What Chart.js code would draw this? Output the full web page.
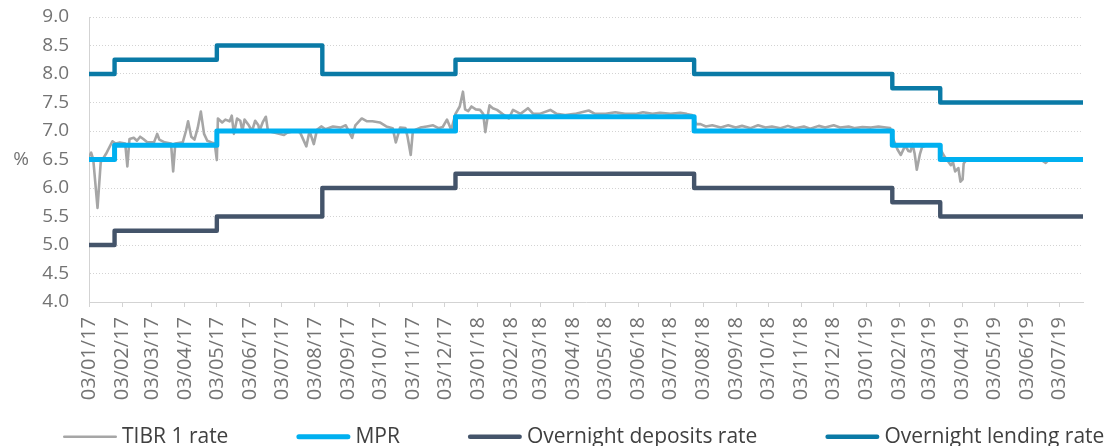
<!DOCTYPE html>
<html>
<head>
<meta charset="utf-8">
<script src="https://cdn.jsdelivr.net/npm/chart.js@4.4.1/dist/chart.umd.min.js"></script>
<style>
  html, body { margin: 0; padding: 0; background: #ffffff; }
  #wrap { width: 1106px; height: 446px; position: relative; }
</style>
</head>
<body>
<div id="wrap"><canvas id="c"></canvas></div>
<script>
// ---------- DATA ----------
const startDate = '2017-01-03';
const endDate = '2019-07-25';

const tickLabels = [
  '03/01/17','03/02/17','03/03/17','03/04/17','03/05/17','03/06/17','03/07/17','03/08/17','03/09/17','03/10/17','03/11/17','03/12/17',
  '03/01/18','03/02/18','03/03/18','03/04/18','03/05/18','03/06/18','03/07/18','03/08/18','03/09/18','03/10/18','03/11/18','03/12/18',
  '03/01/19','03/02/19','03/03/19','03/04/19','03/05/19','03/06/19','03/07/19'
];

const seriesNames = ['TIBR 1 rate', 'MPR', 'Overnight deposits rate', 'Overnight lending rate'];

// policy-rate change dates (step series)
const policyDates = ['2017-01-03','2017-01-27','2017-05-03','2017-08-10','2017-12-13','2018-07-25','2019-01-27','2019-03-13','2019-07-25'];
const mprValues     = [6.50, 6.75, 7.00, 7.00, 7.25, 7.00, 6.75, 6.50, 6.50];
const depositValues = [5.00, 5.25, 5.50, 6.00, 6.25, 6.00, 5.75, 5.50, 5.50];
const lendingValues = [8.00, 8.25, 8.50, 8.00, 8.25, 8.00, 7.75, 7.50, 7.50];

// TIBR 1 (overnight interbank) rate
const tibrDates = [
  '2017-01-03','2017-01-05','2017-01-07','2017-01-11','2017-01-14','2017-01-19','2017-01-25','2017-01-28','2017-02-01','2017-02-06',
  '2017-02-08','2017-02-10','2017-02-14','2017-02-17','2017-02-20','2017-02-23','2017-02-27','2017-03-05','2017-03-08','2017-03-10',
  '2017-03-15','2017-03-21','2017-03-23','2017-03-25','2017-04-01','2017-04-04','2017-04-06','2017-04-09','2017-04-12','2017-04-15',
  '2017-04-18','2017-04-21','2017-04-24','2017-04-28','2017-05-01','2017-05-03','2017-05-04','2017-05-08','2017-05-11','2017-05-15',
  '2017-05-17','2017-05-19','2017-05-22','2017-05-25','2017-05-27','2017-05-29','2017-06-02','2017-06-05','2017-06-08','2017-06-11',
  '2017-06-12','2017-06-15','2017-06-18','2017-06-20','2017-07-05','2017-07-08','2017-07-15','2017-07-20','2017-07-26','2017-07-29',
  '2017-08-02','2017-08-05','2017-08-09','2017-08-13','2017-08-20','2017-08-27','2017-09-01','2017-09-07','2017-09-10','2017-09-16',
  '2017-09-21','2017-09-26','2017-10-03','2017-10-09','2017-10-15','2017-10-18','2017-10-22','2017-10-27','2017-10-29','2017-11-01',
  '2017-11-03','2017-11-10','2017-11-16','2017-11-22','2017-11-27','2017-12-01','2017-12-05','2017-12-09','2017-12-13','2017-12-17',
  '2017-12-20','2017-12-22','2017-12-25','2017-12-28','2018-01-01','2018-01-05','2018-01-08','2018-01-10','2018-01-13','2018-01-14',
  '2018-01-17','2018-01-21','2018-01-26','2018-02-01','2018-02-05','2018-02-12','2018-02-19','2018-02-24','2018-03-02','2018-03-12',
  '2018-03-18','2018-03-26','2018-04-04','2018-04-17','2018-04-23','2018-05-03','2018-05-12','2018-05-21','2018-05-31','2018-06-07',
  '2018-06-16','2018-06-23','2018-07-03','2018-07-12','2018-07-18','2018-07-23','2018-07-27','2018-07-31','2018-08-05','2018-08-11',
  '2018-08-19','2018-08-26','2018-09-02','2018-09-08','2018-09-16','2018-09-23','2018-09-30','2018-10-06','2018-10-14','2018-10-21',
  '2018-10-28','2018-11-05','2018-11-11','2018-11-19','2018-11-25','2018-12-03','2018-12-09','2018-12-17','2018-12-23','2018-12-30',
  '2019-01-07','2019-01-14','2019-01-21','2019-01-25','2019-01-28','2019-02-01','2019-02-04','2019-02-07','2019-02-08','2019-02-11',
  '2019-02-13','2019-02-15','2019-02-17','2019-02-19','2019-02-22','2019-02-24','2019-02-28','2019-03-06','2019-03-11','2019-03-17',
  '2019-03-20','2019-03-23','2019-03-25','2019-03-27','2019-03-30','2019-04-01','2019-04-03','2019-04-04','2019-04-07','2019-04-20',
  '2019-05-09','2019-05-27','2019-06-15','2019-06-20','2019-06-23','2019-07-25'
];
const tibrValues = [
  6.55, 6.62, 6.50, 5.65, 6.45, 6.60, 6.82, 6.78, 6.80, 6.78,
  6.38, 6.86, 6.88, 6.83, 6.90, 6.86, 6.80, 6.80, 6.95, 6.85,
  6.80, 6.78, 6.29, 6.78, 6.80, 7.00, 7.17, 6.90, 6.85, 7.05,
  7.34, 6.95, 6.83, 6.80, 6.78, 6.49, 7.22, 7.15, 7.20, 7.17,
  7.27, 6.95, 7.22, 7.18, 7.00, 7.20, 7.10, 7.00, 7.18, 7.10,
  7.00, 7.15, 7.25, 7.00, 6.93, 6.97, 7.00, 6.98, 6.73, 7.00,
  6.77, 7.02, 7.08, 7.03, 7.08, 7.06, 7.10, 6.88, 7.10, 7.22,
  7.17, 7.17, 7.15, 7.08, 7.05, 6.80, 7.06, 7.05, 6.90, 6.58,
  7.00, 7.06, 7.08, 7.10, 7.05, 7.07, 7.20, 7.02, 7.30, 7.43,
  7.69, 7.38, 7.35, 7.43, 7.38, 7.37, 7.30, 6.98, 7.35, 7.45,
  7.40, 7.37, 7.30, 7.22, 7.37, 7.30, 7.40, 7.30, 7.30, 7.37,
  7.30, 7.28, 7.30, 7.36, 7.30, 7.30, 7.33, 7.30, 7.30, 7.33,
  7.30, 7.32, 7.30, 7.32, 7.30, 7.28, 7.12, 7.12, 7.08, 7.10,
  7.06, 7.10, 7.06, 7.09, 7.05, 7.10, 7.06, 7.08, 7.05, 7.09,
  7.05, 7.08, 7.04, 7.09, 7.06, 7.10, 7.06, 7.08, 7.05, 7.07,
  7.06, 7.08, 7.06, 7.05, 6.85, 6.67, 6.58, 6.70, 6.75, 6.65,
  6.64, 6.77, 6.60, 6.32, 6.60, 6.72, 6.75, 6.74, 6.75, 6.55,
  6.48, 6.40, 6.45, 6.29, 6.35, 6.11, 6.15, 6.43, 6.50, 6.50,
  6.50, 6.49, 6.50, 6.44, 6.50, 6.50
];

// ---------- HELPERS ----------
const toUTC = s => Date.UTC(+s.slice(0, 4), +s.slice(5, 7) - 1, +s.slice(8, 10));
const base = toUTC(startDate);
const dayOf = s => Math.round((toUTC(s) - base) / 86400000);
const labelToDay = l => {
  const [d, m, y] = l.split('/');
  return dayOf('20' + y + '-' + m + '-' + d);
};
const tickDays = tickLabels.map(labelToDay);
const pts = (dates, vals) => dates.map((d, i) => ({ x: dayOf(d), y: vals[i] }));

// ---------- PLUGIN: unit label + line legend ----------
const extras = {
  id: 'extras',
  afterDraw(chart, args, o) {
    const ctx = chart.ctx;
    const area = chart.chartArea;
    ctx.save();
    // unit label
    ctx.font = o.unitFont;
    ctx.fillStyle = o.unitColor;
    ctx.textAlign = 'center';
    ctx.textBaseline = 'middle';
    ctx.fillText(o.unit, o.unitX, (area.top + area.bottom) / 2);
    // legend
    ctx.font = o.font;
    ctx.textAlign = 'left';
    ctx.textBaseline = 'alphabetic';
    let x = o.left;
    chart.data.datasets.forEach(ds => {
      const lw = ds.borderWidth;
      ctx.strokeStyle = ds.borderColor;
      ctx.lineWidth = lw;
      ctx.lineCap = 'round';
      ctx.beginPath();
      ctx.moveTo(x + lw / 2, o.lineY);
      ctx.lineTo(x + o.sample - lw / 2, o.lineY);
      ctx.stroke();
      ctx.fillStyle = o.color;
      const tx = x + o.sample + o.gap;
      ctx.fillText(ds.label, tx, o.baseline);
      x = tx + ctx.measureText(ds.label).width + o.spacing;
    });
    ctx.restore();
  }
};

const tickColor = '#737373';
const gridColor = '#D3D3D3';

new Chart(document.getElementById('c'), {
  type: 'line',
  data: {
    datasets: [
      { label: seriesNames[0], data: pts(tibrDates, tibrValues), borderColor: '#A6A6A6', borderWidth: 2.6, order: 4 },
      { label: seriesNames[1], data: pts(policyDates, mprValues), borderColor: '#00B0F0', borderWidth: 5, stepped: true, order: 3 },
      { label: seriesNames[2], data: pts(policyDates, depositValues), borderColor: '#44546A', borderWidth: 4.4, stepped: true, order: 2 },
      { label: seriesNames[3], data: pts(policyDates, lendingValues), borderColor: '#0A7AA6', borderWidth: 4.4, stepped: true, order: 1 }
    ]
  },
  options: {
    responsive: true,
    maintainAspectRatio: false,
    animation: false,
    layout: { padding: { top: 17, right: 23, bottom: 0, left: 0 } },
    elements: {
      point: { radius: 0, hoverRadius: 0 },
      line: { tension: 0, borderJoinStyle: 'round', borderCapStyle: 'round', fill: false }
    },
    plugins: {
      legend: { display: false },
      tooltip: { enabled: false },
      extras: {
        unit: '%', unitX: 21, unitFont: '19px "Open Sans"', unitColor: tickColor,
        font: '21px "Open Sans"', color: '#404040',
        left: 63, lineY: 436.7, baseline: 442.5, sample: 54, gap: 5, spacing: 68
      }
    },
    scales: {
      x: {
        type: 'linear',
        min: 0,
        max: dayOf(endDate),
        afterBuildTicks: s => { s.ticks = tickDays.map(v => ({ value: v })); },
        afterFit: s => { s.height = 144; },
        ticks: {
          autoSkip: false,
          maxRotation: 90,
          minRotation: 90,
          padding: 10,
          color: tickColor,
          font: { family: '"Open Sans"', size: 20 },
          callback: (v, i) => tickLabels[i]
        },
        grid: { drawOnChartArea: false, drawTicks: true, tickLength: 5, color: gridColor, lineWidth: 1 },
        border: { display: true, color: gridColor, width: 1 }
      },
      y: {
        min: 4,
        max: 9,
        afterFit: s => { s.width = 89; },
        ticks: {
          stepSize: 0.5,
          padding: 3,
          color: tickColor,
          font: { family: '"Open Sans"', size: 19 },
          callback: v => v.toFixed(1)
        },
        grid: { drawTicks: true, tickLength: 17, tickColor: 'rgba(0,0,0,0)', color: gridColor, lineWidth: 1 },
        border: { display: true, color: gridColor, width: 1, dash: [1, 2] }
      }
    }
  },
  plugins: [extras]
});
</script>
</body>
</html>
